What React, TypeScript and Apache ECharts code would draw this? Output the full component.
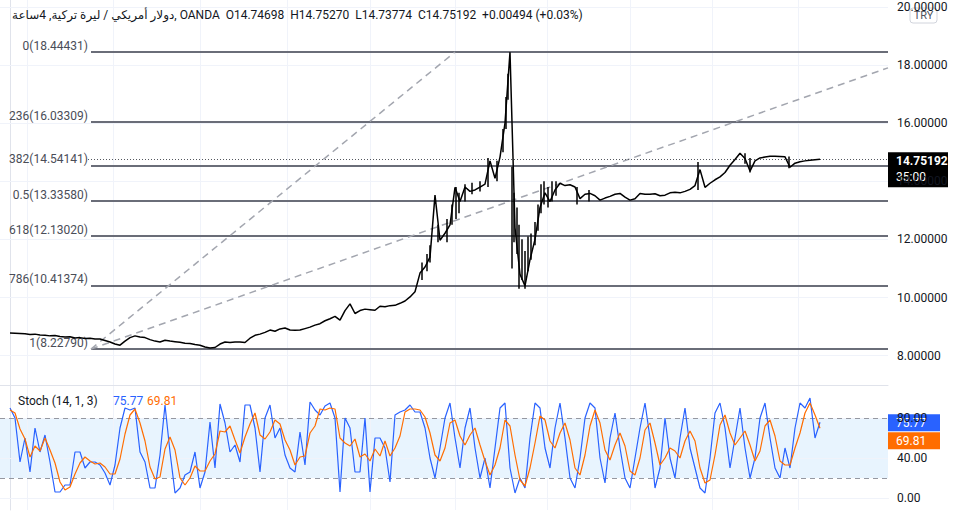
import React, { useEffect, useRef } from "react";
import * as echarts from "echarts";

const HEADER_SYMBOL = "دولار أمريكي / ليرة تركية, 4ساعة, OANDA";
const HEADER_OHLC = "O14.74698  H14.75270  L14.73774  C14.75192  +0.00494 (+0.03%)";
const CURRENCY = "TRY";
const COUNTDOWN = "35:00";

// USD/TRY closes, one sample per bar step (left to right)
const prices = [
  8.78, 8.77, 8.76, 8.75, 8.73, 8.74, 8.71, 8.70, 8.68, 8.69,
  8.66, 8.64, 8.65, 8.61, 8.62, 8.59, 8.60, 8.57, 8.57, 8.52,
  8.47, 8.40, 8.36, 8.50, 8.62, 8.68, 8.64, 8.62, 8.55, 8.50,
  8.47, 8.53, 8.50, 8.48, 8.46, 8.43, 8.42, 8.38, 8.36, 8.30,
  8.26, 8.28, 8.40, 8.47, 8.45, 8.47, 8.47, 8.45, 8.60, 8.70,
  8.74, 8.80, 8.88, 8.84, 8.92, 8.95, 8.88, 8.87, 8.88, 8.93,
  8.98, 9.05, 9.10, 9.20, 9.27, 9.35, 9.22, 9.55, 9.78, 9.45,
  9.55, 9.60, 9.58, 9.56, 9.70, 9.68, 9.72, 9.73, 9.80, 9.88,
  10.02, 10.20, 10.84, 11.05, 11.39, 13.52, 11.97, 12.21, 12.50, 13.79,
  13.30, 13.80, 13.65, 13.70, 13.80, 13.90, 14.70, 14.10, 14.83, 16.00,
  18.44, 12.40, 10.80, 10.40, 11.30, 12.00, 13.10, 13.60, 13.30, 13.70,
  13.93, 13.85, 13.88, 13.80, 13.40, 13.55, 13.58, 13.50, 13.35, 13.42,
  13.48, 13.55, 13.58, 13.45, 13.35, 13.40, 13.58, 13.55, 13.55, 13.57,
  13.50, 13.52, 13.60, 13.62, 13.60, 13.65, 13.72, 13.85, 14.40, 13.79,
  13.93, 14.05, 14.15, 14.30, 14.55, 14.75, 14.96, 14.78, 14.35, 14.70,
  14.80, 14.83, 14.86, 14.86, 14.85, 14.84, 14.48, 14.62, 14.67, 14.70,
  14.72, 14.74, 14.75192,
];

// candle wicks in the volatile stretches: [bar, low, high]
const wicks = [
  [82.4, 10.6, 11.2], [83.4, 10.9, 11.5], [84, 11.2, 11.8], [85.6, 11.9, 12.5],
  [87.4, 11.9, 12.7], [88.4, 12.5, 13.2], [89.2, 12.7, 13.8], [89.8, 12.9, 13.6],
  [91, 13.3, 13.9], [92.4, 13.55, 13.95], [94, 13.65, 14.0], [95.6, 13.8, 14.8],
  [97.4, 14.0, 14.7], [98.6, 15.0, 15.8], [99.2, 15.8, 16.9], [99.6, 16.8, 17.7],
  [100.4, 11.0, 14.5], [100.8, 11.9, 13.6], [101.4, 11.5, 13.1], [101.8, 10.3, 12.5],
  [102.4, 10.6, 12.0], [103, 10.3, 11.6], [103.6, 10.9, 12.1], [104.2, 11.3, 12.2],
  [105, 11.8, 12.6], [105.6, 12.3, 13.2], [106.2, 12.9, 13.9], [106.8, 13.2, 14.0],
  [107.6, 13.1, 13.8], [108.4, 13.3, 14.0], [109.2, 13.5, 14.0], [113.4, 13.2, 13.8],
  [115.8, 13.3, 13.7], [137.6, 13.7, 14.66], [147, 14.6, 14.96], [148, 14.3, 14.8],
  [155.8, 14.45, 14.85],
];

// Stochastic %K (blue) and %D (orange)
const stochK = [
  90, 80, 36, 60, 26, 70, 46, 63, 36, 6,
  6, 13, 13, 46, 46, 30, 36, 36, 33, 25,
  13, 33, 70, 90, 88, 90, 46, 36, 10, 10,
  43, 93, 46, 5, 10, 23, 26, 46, 10, 26,
  76, 30, 94, 75, 46, 53, 36, 93, 93, 70,
  26, 80, 93, 60, 70, 43, 30, 26, 66, 33,
  96, 88, 83, 92, 95, 80, 6, 80, 70, 26,
  26, 80, 6, 60, 60, 50, 16, 83, 86, 88,
  93, 86,
  86, 70, 40, 20, 50, 80, 95, 60, 30, 70,
  90, 50, 20, 40, 10, 50, 90, 95, 30, 5,
  20, 10, 60, 95, 90, 50, 30, 70, 95, 60,
  20, 10, 40, 80, 95, 90, 40, 15, 60, 85,
  50, 20, 10, 40, 70, 95, 60, 10, 30, 80,
  40, 20, 60, 90, 50, 30, 10, 5, 40, 85,
  95, 70, 30, 60, 90, 50, 20, 40, 80, 95,
  60, 30, 20, 50, 30, 70, 95, 90, 100, 60,
  75.77,
];
const stochD = [
  88, 85, 69, 59, 41, 52, 47, 60, 48, 35,
  16, 8, 11, 24, 35, 41, 37, 34, 35, 31,
  24, 24, 39, 64, 83, 89, 75, 57, 31, 19,
  21, 49, 61, 48, 20, 13, 20, 32, 27, 27,
  37, 44, 67, 66, 72, 58, 45, 61, 74, 85,
  63, 59, 66, 78, 74, 58, 48, 33, 41, 42,
  65, 72, 89, 88, 90, 89, 60, 55, 52, 59,
  41, 44, 37, 49, 42, 57, 42, 50, 62, 86,
  89, 89,
  88, 81, 65, 43, 37, 50, 75, 78, 62, 53,
  63, 70, 53, 37, 23, 33, 50, 78, 72, 43,
  18, 12, 30, 55, 82, 78, 57, 50, 65, 75,
  58, 30, 23, 43, 72, 88, 75, 48, 38, 53,
  65, 52, 27, 23, 40, 68, 75, 55, 33, 40,
  50, 47, 40, 57, 67, 57, 30, 15, 18, 43,
  73, 83, 65, 53, 60, 67, 53, 37, 47, 72,
  78, 62, 37, 33, 33, 50, 65, 85, 95, 83,
  69.81,
];

const fibLevels = [18.44431, 16.03309, 14.54141, 13.3358, 12.1302, 10.41374, 8.2279];
const fibLabels = ["0(18.44431)", "236(16.03309)", "382(14.54141)", "0.5(13.33580)", "618(12.13020)", "786(10.41374)", "1(8.22790)"];
const fibStartBar = 16.2;
// drawing-tool trend lines: [startBar, startPrice, endBar, endPrice]
const trendLines = [
  [16.2, 8.2279, 89, 18.44431],
  [16.2, 8.2279, 175.6, 17.9],
];
const priceTicks = [8, 10, 12, 14, 16, 18, 20];
const stochTicks = [0, 40, 80];
const stochBand = [20, 80];
const timeGridBars = [3.4, 20.6, 38, 55.4, 72, 89, 107.4, 124, 140.4, 157.6];
const lastPrice = 14.75192;
const lastK = 75.77;
const lastD = 69.81;

const X_MIN = -2;
const X_MAX = 175.6;
const FONT = 'Roboto, "DejaVu Sans", sans-serif';
const GRID_COLOR = "#f0f3fa";

export default function App() {
  const ref = useRef<HTMLDivElement>(null);
  useEffect(() => {
    document.body.style.margin = "0";
    if (!ref.current) return;
    const chart = echarts.init(ref.current, null, { renderer: "svg" });

    const priceData = prices.map((p, i) => [i, p]);
    const wickData: any[] = [];
    wicks.forEach((w) => {
      wickData.push([w[0], w[1]], [w[0], w[2]], [w[0], "-"]);
    });
    const kData = stochK.map((v, i) => [i, v]);
    const dData = stochD.map((v, i) => [i, v]);

    const fibLines = fibLevels.map((lvl, i) => [
      { name: fibLabels[i], coord: [fibStartBar, lvl] },
      { coord: [X_MAX, lvl] },
    ]);
    const trendData = trendLines.map((t) => [
      { coord: [t[0], t[1]] },
      { coord: [t[2], t[3]] },
    ]);

    const xAxisBase = {
      type: "value",
      min: X_MIN,
      max: X_MAX,
      axisLine: { show: true, lineStyle: { color: "#e0e3eb" } },
      axisTick: { show: false },
      axisLabel: { show: false },
      splitLine: { show: false },
    };

    const option: any = {
      animation: false,
      backgroundColor: "#ffffff",
      textStyle: { fontFamily: FONT },
      grid: [
        { left: 0, top: 0, width: 888, height: 385 },
        { left: 0, top: 386, width: 888, height: 124 },
      ],
      xAxis: [
        { ...xAxisBase, gridIndex: 0 },
        { ...xAxisBase, gridIndex: 1 },
      ],
      yAxis: [
        {
          type: "value",
          gridIndex: 0,
          position: "right",
          min: 6.99,
          max: 20.234,
          axisLine: { show: true, lineStyle: { color: "#e0e3eb" } },
          axisTick: { show: false },
          splitLine: { show: false },
          axisLabel: {
            customValues: priceTicks,
            formatter: (v: number) => v.toFixed(5),
            color: "#131722",
            fontSize: 12,
            fontFamily: FONT,
            margin: 9,
          },
        },
        {
          type: "value",
          gridIndex: 1,
          position: "right",
          min: -12,
          max: 112,
          axisLine: { show: true, lineStyle: { color: "#e0e3eb" } },
          axisTick: { show: false },
          splitLine: { show: false },
          axisLabel: {
            customValues: stochTicks,
            formatter: (v: number) => v.toFixed(2),
            color: "#131722",
            fontSize: 12,
            fontFamily: FONT,
            margin: 9,
          },
        },
      ],
      series: [
        {
          name: "grid0",
          type: "line",
          xAxisIndex: 0,
          yAxisIndex: 0,
          data: [],
          z: 1,
          silent: true,
          markLine: {
            silent: true,
            symbol: ["none", "none"],
            label: { show: false },
            lineStyle: { color: GRID_COLOR, width: 1, type: "solid" },
            data: [
              ...priceTicks.map((t) => ({ yAxis: t })),
              ...timeGridBars.map((b) => ({ xAxis: b })),
            ],
          },
        },
        {
          name: "grid1",
          type: "line",
          xAxisIndex: 1,
          yAxisIndex: 1,
          data: [],
          z: 1,
          silent: true,
          markArea: {
            silent: true,
            itemStyle: { color: "rgba(33,150,243,0.1)" },
            data: [[{ yAxis: stochBand[0] }, { yAxis: stochBand[1] }]],
          },
          markLine: {
            silent: true,
            symbol: ["none", "none"],
            label: { show: false },
            lineStyle: { color: GRID_COLOR, width: 1, type: "solid" },
            data: [
              ...stochTicks.map((t) => ({ yAxis: t })),
              ...timeGridBars.map((b) => ({ xAxis: b })),
            ],
          },
        },
        {
          name: "fib",
          type: "line",
          xAxisIndex: 0,
          yAxisIndex: 0,
          data: [],
          z: 2,
          markLine: {
            silent: true,
            symbol: ["none", "none"],
            lineStyle: { color: "#6a6d78", width: 2, type: "solid" },
            label: {
              show: true,
              position: "start",
              formatter: "{b}",
              color: "#4a4d57",
              fontSize: 12,
              fontFamily: FONT,
              distance: 3,
              verticalAlign: "bottom",
            },
            data: fibLines,
          },
        },
        {
          name: "trend",
          type: "line",
          xAxisIndex: 0,
          yAxisIndex: 0,
          data: [],
          z: 2,
          markLine: {
            silent: true,
            symbol: ["none", "none"],
            label: { show: false },
            lineStyle: { color: "#a3a6af", width: 1.5, type: [7, 5] },
            data: [
              ...trendData,
              [
                { coord: [15.6, lastPrice], lineStyle: { color: "#55585f", width: 1, type: [1, 2] } },
                { coord: [X_MAX, lastPrice] },
              ],
            ],
          },
        },
        {
          name: "USDTRY",
          type: "line",
          xAxisIndex: 0,
          yAxisIndex: 0,
          data: priceData,
          showSymbol: false,
          symbol: "none",
          z: 5,
          lineStyle: { color: "#000000", width: 1.5 },
        },
        {
          name: "wicks",
          type: "line",
          xAxisIndex: 0,
          yAxisIndex: 0,
          data: wickData,
          symbol: "none",
          connectNulls: false,
          z: 5,
          lineStyle: { color: "#000000", width: 1.5 },
        },
        {
          name: "%K",
          type: "line",
          xAxisIndex: 1,
          yAxisIndex: 1,
          data: kData,
          symbol: "none",
          z: 5,
          lineStyle: { color: "#2962ff", width: 1.2 },
        },
        {
          name: "%D",
          type: "line",
          xAxisIndex: 1,
          yAxisIndex: 1,
          data: dData,
          symbol: "none",
          z: 6,
          lineStyle: { color: "#ff6d00", width: 1.2 },
          markLine: {
            silent: true,
            symbol: ["none", "none"],
            label: { show: false },
            lineStyle: { color: "#9598a1", width: 1, type: [5, 4] },
            data: stochBand.map((b) => ({ yAxis: b })),
          },
        },
      ],
    };
    chart.setOption(option);

    const yP = chart.convertToPixel({ yAxisIndex: 0 }, lastPrice) as number;
    const yK = chart.convertToPixel({ yAxisIndex: 1 }, lastK) as number;

    chart.setOption({
      graphic: [
        {
          type: "text",
          left: 12,
          top: 9,
          z: 100,
          style: {
            text: HEADER_SYMBOL + "  " + HEADER_OHLC,
            fill: "#131722",
            font: `12px ${FONT}`,
          },
        },
        {
          type: "text",
          left: 18,
          top: 395,
          z: 100,
          style: { text: "Stoch (14, 1, 3)", fill: "#131722", font: `12px ${FONT}` },
        },
        {
          type: "text",
          left: 113,
          top: 395,
          z: 100,
          style: { text: lastK.toFixed(2), fill: "#2962ff", font: `12px ${FONT}` },
        },
        {
          type: "text",
          left: 147,
          top: 395,
          z: 100,
          style: { text: lastD.toFixed(2), fill: "#ff6d00", font: `12px ${FONT}` },
        },
        {
          type: "group",
          z: 100,
          children: [
            {
              type: "rect",
              shape: { x: 910, y: 8, width: 27, height: 15, r: 3 },
              style: { fill: "#ffffff", stroke: "#d1d4dc", lineWidth: 1 },
            },
            {
              type: "text",
              x: 923.5,
              y: 15.5,
              style: {
                text: CURRENCY,
                fill: "#50535e",
                font: `11px ${FONT}`,
                align: "center",
                verticalAlign: "middle",
              },
            },
          ],
        },
        {
          type: "group",
          z: 100,
          children: [
            {
              type: "rect",
              shape: { x: 888, y: yP - 7, width: 60, height: 35 },
              style: { fill: "#000000" },
            },
            {
              type: "text",
              x: 896,
              y: yP + 2,
              style: {
                text: lastPrice.toFixed(5),
                fill: "#ffffff",
                font: `bold 12px ${FONT}`,
                verticalAlign: "middle",
              },
            },
            {
              type: "text",
              x: 896,
              y: yP + 18,
              style: { text: COUNTDOWN, fill: "#ffffff", font: `12px ${FONT}`, verticalAlign: "middle" },
            },
          ],
        },
        {
          type: "group",
          z: 100,
          children: [
            {
              type: "rect",
              shape: { x: 888, y: yK - 8, width: 52, height: 17 },
              style: { fill: "#2962ff" },
            },
            {
              type: "text",
              x: 896,
              y: yK + 0.5,
              style: { text: lastK.toFixed(2), fill: "#ffffff", font: `12px ${FONT}`, verticalAlign: "middle" },
            },
            {
              type: "rect",
              shape: { x: 888, y: yK + 10, width: 52, height: 17 },
              style: { fill: "#ff6d00" },
            },
            {
              type: "text",
              x: 896,
              y: yK + 18.5,
              style: { text: lastD.toFixed(2), fill: "#ffffff", font: `12px ${FONT}`, verticalAlign: "middle" },
            },
          ],
        },
      ],
    });

    return () => chart.dispose();
  }, []);
  return <div ref={ref} style={{ width: 968, height: 515 }} />;
}
